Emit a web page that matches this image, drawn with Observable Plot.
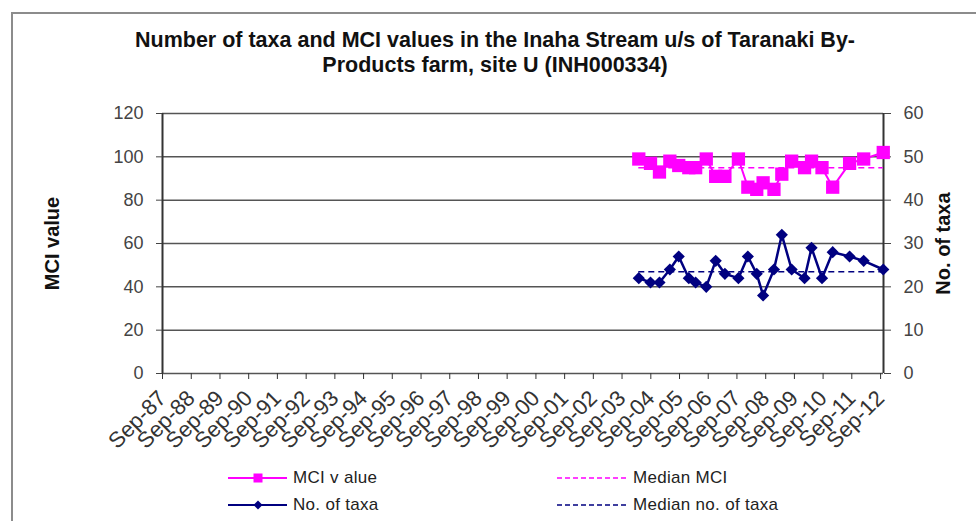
<!DOCTYPE html>
<html><head><meta charset="utf-8">
<script src="https://cdn.jsdelivr.net/npm/d3@7"></script>
<script src="https://cdn.jsdelivr.net/npm/@observablehq/plot@0.6"></script>
<style>
body{margin:0;background:#fff;}
#wrap{position:relative;width:976px;height:521px;overflow:hidden;background:#fff;font-family:"Liberation Sans",Arial,sans-serif;}
#frame{position:absolute;left:11px;top:12px;width:1000px;height:600px;border:2px solid #8c8c8c;box-sizing:border-box;}
#title{position:absolute;left:0;top:28px;width:990px;text-align:center;font-weight:bold;font-size:21.5px;line-height:25px;color:#111;}
#chart{position:absolute;left:0;top:95px;}
#chart g[aria-label="y-axis label"] text{font-weight:bold;font-size:20px;fill:#111;}
.lg{position:absolute;font-size:17px;color:#222;white-space:nowrap;line-height:20px;letter-spacing:0.3px;}
#lgsvg{position:absolute;left:0;top:460px;}
</style></head>
<body>
<div id="wrap">
  <div id="frame"></div>
  <div id="title">Number of taxa and MCI values in the Inaha Stream u/s of Taranaki By-<br>Products farm, site U (INH000334)</div>
  <div id="chart"></div>
  <svg id="lgsvg" width="976" height="61">
    <line x1="228" y1="18" x2="287" y2="18" stroke="#ff00ff" stroke-width="2"/>
    <rect x="253.5" y="13.5" width="9" height="9" fill="#ff00ff"/>
    <line x1="557" y1="18" x2="628" y2="18" stroke="#ff00ff" stroke-width="1.5" stroke-dasharray="5,3"/>
    <line x1="228" y1="45" x2="287" y2="45" stroke="#000080" stroke-width="2"/>
    <path d="M258,40.5 L262.5,45 L258,49.5 L253.5,45 Z" fill="#000080"/>
    <line x1="557" y1="45" x2="628" y2="45" stroke="#000080" stroke-width="1.5" stroke-dasharray="5,3"/>
  </svg>
  <div class="lg" style="left:293px;top:468px;">MCI v alue</div>
  <div class="lg" style="left:633px;top:468px;">Median MCI</div>
  <div class="lg" style="left:293px;top:495px;">No. of  taxa</div>
  <div class="lg" style="left:633px;top:495px;">Median no. of taxa</div>
</div>
<script>
// Sampling dates
const sampleDates = ["2004-04-01","2004-08-28","2004-12-20","2005-05-01","2005-08-22","2005-12-28",
  "2006-03-25","2006-08-07","2006-12-05","2007-04-01","2007-09-20","2008-01-18",
  "2008-05-10","2008-07-30","2008-12-15","2009-03-25","2009-07-28","2010-01-08",
  "2010-04-07","2010-08-18","2011-01-01","2011-08-04","2012-01-30","2012-10-05"];
// MCI values
const mciValues = [99,97,93,98,96,95,95,99,91,91,99,86,85,88,85,92,98,95,98,95,86,97,99,102];
// Number of taxa
const taxaValues = [22,21,21,24,27,22,21,20,26,23,22,27,23,18,24,32,24,22,29,22,28,27,26,24];
// Axis ticks
const mciTicks = [0,20,40,60,80,100,120];
const tickYears = [1987,1988,1989,1990,1991,1992,1993,1994,1995,1996,1997,1998,1999,2000,2001,2002,2003,2004,2005,2006,2007,2008,2009,2010,2011,2012];

const data = sampleDates.map((d,i)=>({date:new Date(d+"T00:00Z"), mci:mciValues[i], taxa:taxaValues[i]}));
const medMCI = d3.median(mciValues);
const medTaxa = d3.median(taxaValues);
const firstDate = data[0].date, lastDate = data[data.length-1].date;
const x0 = new Date(Date.UTC(1987,8,1)), x1 = new Date(Date.UTC(2012,9,8));
const xTicks = tickYears.map(y=>new Date(Date.UTC(y,8,1)));

const chart = Plot.plot({
  width:976, height:362,
  marginTop:18, marginLeft:162, marginRight:93, marginBottom:84,
  style:{fontFamily:"Liberation Sans, Arial, sans-serif", background:"transparent", overflow:"visible"},
  x:{type:"utc", domain:[x0,x1]},
  y:{domain:[0,120]},
  marks:[
    Plot.ruleY(mciTicks, {stroke:"#555", strokeWidth:1.5}),
    Plot.ruleX([x0,x1], {stroke:"#333", strokeWidth:2}),
    Plot.axisY({anchor:"left", ticks:mciTicks, tickSize:6, tickPadding:13, fontSize:18, color:"#444",
      label:"MCI value", labelAnchor:"center", labelOffset:118, labelArrow:"none"}),
    Plot.axisY({anchor:"right", ticks:mciTicks, tickFormat:d=>d/2, tickSize:7, tickPadding:13, fontSize:18, color:"#444",
      label:"No. of taxa", labelAnchor:"center", labelOffset:66, labelArrow:"none"}),
    Plot.axisX({ticks:xTicks, tickFormat:d3.utcFormat("%b-%y"), tickRotate:-45, tickSize:6, tickPadding:15,
      fontSize:22, color:"#333", label:null}),
    Plot.ruleY([medMCI], {x1:()=>firstDate, x2:()=>lastDate, stroke:"#ff00ff", strokeWidth:1.5, strokeDasharray:"6,4"}),
    Plot.ruleY([medTaxa*2], {x1:()=>firstDate, x2:()=>lastDate, stroke:"#000080", strokeWidth:1.5, strokeDasharray:"6,4"}),
    Plot.line(data, {x:"date", y:"mci", stroke:"#ff00ff", strokeWidth:2}),
    Plot.dot(data, {x:"date", y:"mci", symbol:"square", r:7.5, fill:"#ff00ff", stroke:"none"}),
    Plot.line(data, {x:"date", y:d=>d.taxa*2, stroke:"#000080", strokeWidth:2.5}),
    Plot.dot(data, {x:"date", y:d=>d.taxa*2, symbol:"diamond2", r:5.5, fill:"#000080", stroke:"none"})
  ]
});
document.getElementById("chart").appendChild(chart);
</script>
</body></html>
